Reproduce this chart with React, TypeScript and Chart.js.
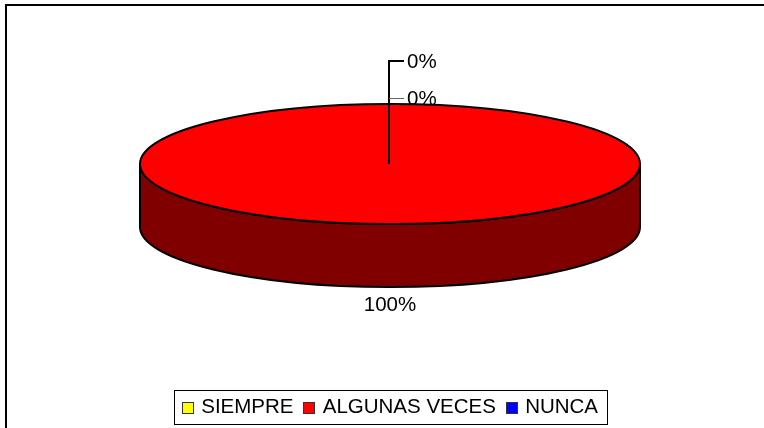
import React, { useEffect, useRef } from "react";
import { Chart, registerables } from "chart.js";

Chart.register(...registerables);

const categories = ["SIEMPRE", "ALGUNAS VECES", "NUNCA"];
const values = [0, 100, 0];
const colors = ["#ffff00", "#ff0000", "#0000ff"];
const sideColor = "#800000";
const FONT = "'Liberation Sans', Arial, sans-serif";

const RX = 250;
const DEPTH = 63;

const piePlugin = {
  id: "pie3d",
  afterLayout(chart: any) {
    const lg = chart.legend;
    const h = lg.bottom - lg.top;
    lg.top = 387;
    lg.bottom = 387 + h;
    lg.adjustHitBoxes();
  },
  beforeDraw(chart: any) {
    const { ctx, width, height } = chart;
    ctx.save();
    ctx.fillStyle = "#ffffff";
    ctx.fillRect(0, 0, width, height);
    ctx.strokeStyle = "#000000";
    ctx.lineWidth = 2;
    ctx.beginPath();
    ctx.moveTo(6, height);
    ctx.lineTo(6, 5);
    ctx.lineTo(width, 5);
    ctx.stroke();
    ctx.restore();
    chart.legend.adjustHitBoxes();
  },
  beforeDatasetsDraw(chart: any) {
    const { ctx } = chart;
    const arc = chart.getDatasetMeta(0).data[1];
    const cx = arc.x, cy = arc.y, ry = arc.outerRadius, rx = RX;
    ctx.save();
    ctx.beginPath();
    ctx.ellipse(cx, cy + DEPTH, rx, ry, 0, 0, Math.PI);
    ctx.lineTo(cx - rx, cy);
    ctx.ellipse(cx, cy, rx, ry, 0, Math.PI, 0, true);
    ctx.closePath();
    ctx.fillStyle = sideColor;
    ctx.fill();
    ctx.strokeStyle = "#000000";
    ctx.lineWidth = 2;
    ctx.stroke();
    ctx.restore();

    ctx.save();
    ctx.translate(cx, cy);
    ctx.scale(rx / ry, 1);
    ctx.translate(-cx, -cy);
  },
  afterDatasetsDraw(chart: any) {
    const { ctx } = chart;
    ctx.restore();
    const arcs = chart.getDatasetMeta(0).data;
    const arc = arcs[1];
    const cx = arc.x, cy = arc.y, ry = arc.outerRadius, rx = RX;
    const total = values.reduce((a, b) => a + b, 0);
    const pct = (i: number) => `${Math.round((values[i] / total) * 100)}%`;

    ctx.save();
    ctx.strokeStyle = "#000000";
    ctx.lineWidth = 2;
    ctx.beginPath();
    ctx.ellipse(cx, cy, rx, ry, 0, 0, Math.PI * 2);
    ctx.stroke();

    // leader lines
    const lx = Math.round(cx) - 1;
    ctx.lineWidth = 2;
    ctx.beginPath();
    ctx.moveTo(lx, cy);
    ctx.lineTo(lx, cy - 103);
    ctx.lineTo(lx + 15, cy - 103);
    ctx.stroke();
    ctx.strokeStyle = "#666666";
    ctx.lineWidth = 1;
    ctx.beginPath();
    ctx.moveTo(lx, cy - 65.5);
    ctx.lineTo(lx + 15, cy - 65.5);
    ctx.stroke();

    ctx.fillStyle = "#000000";
    ctx.font = `20.5px ${FONT}`;
    ctx.textBaseline = "middle";
    ctx.textAlign = "left";
    ctx.fillText(pct(0), cx + 17, cy - 102);
    ctx.fillText(pct(2), cx + 17, cy - 65);
    ctx.textAlign = "center";
    ctx.fillText(pct(1), cx, cy + 141);
    ctx.restore();
  },
  afterDraw(chart: any) {
    const { ctx, legend } = chart;
    const boxes = legend.legendHitBoxes;
    ctx.save();
    const first = boxes[0];
    const last = boxes[boxes.length - 1];
    ctx.strokeStyle = "#000000";
    ctx.lineWidth = 1;
    ctx.strokeRect(
      Math.round(first.left - 8) + 0.5,
      390.5,
      Math.round(last.left + last.width + 9 - (first.left - 8)),
      34
    );
    boxes.forEach((b: any, i: number) => {
      const x = Math.round(b.left) + 0.5;
      ctx.fillStyle = colors[i];
      ctx.fillRect(x, 402.5, 11, 11);
      ctx.strokeStyle = "#333333";
      ctx.lineWidth = 1;
      ctx.strokeRect(x, 402.5, 11, 11);
    });
    ctx.restore();
  },
};

export default function App() {
  const ref = useRef<HTMLCanvasElement>(null);
  useEffect(() => {
    const chart = new Chart(ref.current!, {
      type: "pie",
      data: {
        labels: categories,
        datasets: [
          {
            data: values,
            backgroundColor: colors,
            borderWidth: 0,
            radius: 60,
          },
        ],
      },
      options: {
        animation: false,
        responsive: false,
        layout: {
          padding: { top: 104, left: 140, right: 124, bottom: 163.5 },
        },
        plugins: {
          tooltip: { enabled: false },
          title: { display: false },
          legend: {
            display: true,
            position: "bottom",
            labels: {
              boxWidth: 9,
              boxHeight: 12,
              padding: 10,
              color: "#000000",
              font: { family: FONT, size: 20.5 },
              generateLabels: (c: any) =>
                c.data.labels.map((t: string, i: number) => ({
                  text: t,
                  fillStyle: "rgba(0,0,0,0)",
                  strokeStyle: "rgba(0,0,0,0)",
                  lineWidth: 0,
                  hidden: false,
                  index: i,
                })),
            },
          },
        },
      },
      plugins: [piePlugin],
    } as any);
    return () => chart.destroy();
  }, []);
  return (
    <canvas
      ref={ref}
      width={764}
      height={428}
      style={{ position: "absolute", left: 0, top: 0, display: "block", width: 764, height: 428 }}
    />
  );
}
